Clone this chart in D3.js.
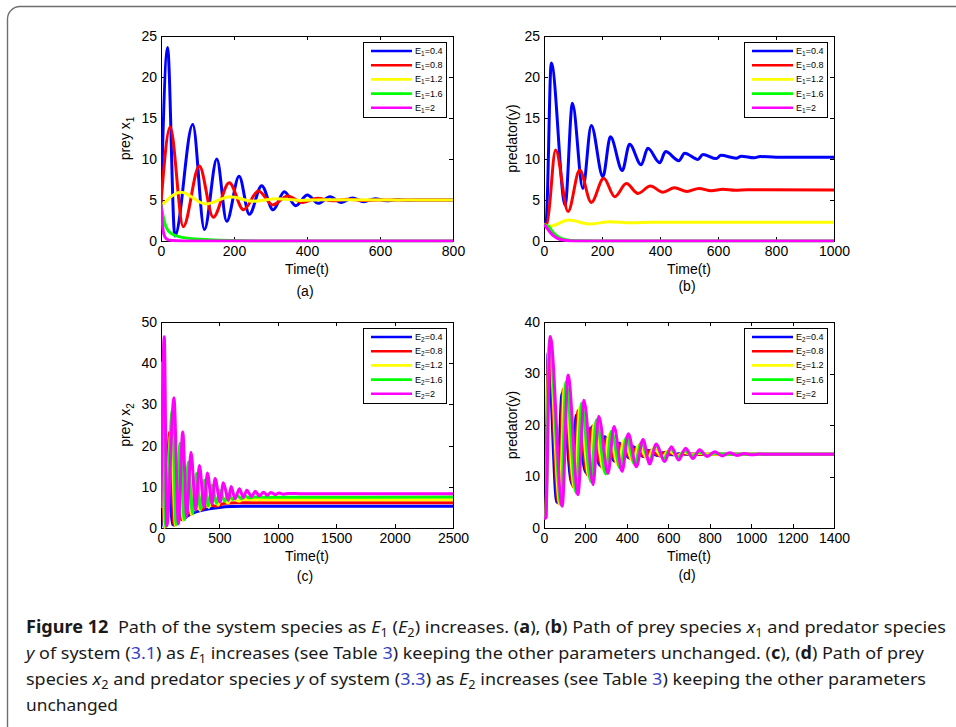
<!DOCTYPE html>
<html>
<head>
<meta charset="utf-8">
<script src="https://cdn.jsdelivr.net/npm/d3@7"></script>
<style>
  body { margin: 0; background: #fff; }
  svg { display: block; }
</style>
</head>
<body>
<svg id="fig" width="956" height="727"></svg>
<script>
// series colours and legend values (E = 0.4 ... 2)
const seriesColors = ["#0000ff", "#ff0000", "#ffff00", "#00ff00", "#ff00ff"];
const effortLevels = ["0.4", "0.8", "1.2", "1.6", "2"];

// tick labels
const xTicksA = [0, 200, 400, 600, 800];
const yTicksA = [0, 5, 10, 15, 20, 25];
const xTicksB = [0, 200, 400, 600, 800, 1000];
const yTicksB = [0, 5, 10, 15, 20, 25];
const xTicksC = [0, 500, 1000, 1500, 2000, 2500];
const yTicksC = [0, 10, 20, 30, 40, 50];
const xTicksD = [0, 200, 400, 600, 800, 1000, 1200, 1400];
const yTicksD = [0, 10, 20, 30, 40];

// (a) prey x1, [t, x1] read at the peaks / troughs
const preyX1_E04 = [[0,4.6],[18,23.6],[38,0.6],[87,14.2],[119,1.4],[153,10],[180,2.4],[214,7.9],[242,3.25],[276,6.75],[307,3.8],[338,6.0],[369,4.3],[401,5.6],[431,4.6],[463,5.4],[494,4.7],[525,5.25],[555,4.8],[587,5.15],[617,4.9],[650,5.05],[680,4.97],[720,5.0],[800,5.0]];
const preyX1_E08 = [[0,4.6],[25,13.9],[61,1.75],[105,9.15],[143,2.9],[187,7.1],[226,3.8],[267,6.1],[306,4.4],[347,5.5],[388,4.7],[429,5.2],[470,4.9],[511,5.1],[552,4.95],[600,5.0],[800,5.0]];
const preyX1_E12 = [[0,4.2],[55,5.95],[123,4.5],[189,5.4],[253,4.85],[317,5.15],[380,4.95],[450,5.02],[800,5.0]];
const preyX1_E16 = [[0,4.5],[6,3.0],[15,1.6],[29,0.9],[52,0.5],[107,0.2],[198,0.05],[300,0],[800,0]];
const preyX1_E20 = [[0,4.5],[3,2.5],[8,0.8],[15,0.25],[30,0.05],[60,0],[800,0]];

// (b) predator y, system (3.1)
const predY1_E04 = [[0,2],[8,2.6],[25,21.7],[73,4.4],[98,16.8],[134,6.4],[163,14.1],[203,7.85],[229,12.7],[270,8.6],[295,11.8],[335,9.3],[358,11.3],[399,9.55],[419,10.9],[465,9.8],[485,10.7],[531,9.95],[548,10.55],[594,10.05],[610,10.45],[663,10.1],[680,10.35],[725,10.15],[745,10.3],[800,10.22],[1000,10.22]];
const predY1_E08 = [[0,2],[10,2.1],[40,11.1],[83,3.6],[123,8.65],[163,4.7],[206,7.65],[244,5.4],[284,7.0],[324,5.8],[367,6.7],[410,5.95],[450,6.5],[493,6.05],[534,6.4],[577,6.12],[617,6.3],[660,6.18],[700,6.25],[1000,6.22]];
const predY1_E12 = [[0,2],[20,1.8],[86,2.55],[157,2.07],[226,2.35],[301,2.22],[370,2.3],[1000,2.28]];
const predY1_E16 = [[0,2],[15,1.8],[30,1.1],[50,0.5],[75,0.15],[110,0.02],[200,0],[1000,0]];
const predY1_E20 = [[0,2],[12,1.5],[25,0.9],[45,0.35],[70,0.08],[100,0],[1000,0]];

// (c) prey x2, system (3.3)
const preyX2_E04 = [[0,5],[4,30],[25,0.2],[60,15],[100,0.8],[140,6],[180,2],[230,3],[300,3.9],[400,4.6],[500,5.0],[600,5.2],[700,5.26],[2500,5.26]];
const preyX2_E08 = [[0,5],[5,36],[28,0.2],[75,23.3],[112,0.6],[140,15],[175,2],[205,9],[250,3.3],[290,6.5],[350,4.5],[400,5.8],[470,5.3],[550,6.0],[650,6.1],[2500,6.15]];
const preyX2_E12 = [[0,5],[6,40],[32,0.2],[86,23],[125,0.6],[152,16.4],[190,1.8],[222,13],[262,3.2],[290,10.5],[335,4.3],[360,9],[410,5],[435,8.2],[490,5.6],[515,7.6],[575,6.1],[600,7.3],[670,6.5],[700,7.0],[800,6.85],[2500,6.88]];
const preyX2_E16 = [[0,5],[8,40],[40,0.3],[97,28.5],[130,0.8],[163,20.6],[200,2],[234,16],[270,3.5],[303,13.2],[340,4.6],[371,11.6],[405,5.4],[437,10.4],[475,6],[506,9.1],[545,6.5],[577,8.3],[615,6.9],[650,7.9],[690,7.1],[720,7.7],[760,7.3],[800,7.55],[900,7.45],[2500,7.5]];
const preyX2_E20 = [[0,5],[28,46.4],[50,0.5],[111,31.6],[149,1],[186,23.3],[220,2.7],[257,18.4],[297,4.3],[329,15.2],[369,5.1],[397,13.35],[437,5.9],[463,12.0],[506,6.3],[534,11.0],[577,6.7],[600,10.1],[634,7.1],[671,9.5],[706,7.4],[734,9.15],[777,7.6],[806,8.9],[843,7.8],[877,8.7],[911,7.95],[940,8.6],[980,8.1],[1011,8.5],[1050,8.2],[1090,8.4],[1200,8.33],[2500,8.33]];

// (d) predator y, system (3.3)
const predY2_E04 = [[0,2],[8,2],[20,34],[62,5],[87,26.1],[135,8.5],[156,21.9],[202,10.8],[224,19.4],[270,12.2],[293,17.7],[340,13],[362,16.5],[410,13.6],[430,15.8],[478,13.9],[500,15.1],[545,14.1],[570,14.6],[620,14.2],[650,14.4],[700,14.3],[1400,14.3]];
const predY2_E08 = [[0,2],[8,2],[23,35],[70,4.8],[93,27],[141,8],[165,22.8],[210,10.3],[234,19.8],[280,11.8],[303,17.5],[350,12.8],[374,16.3],[420,13.4],[445,15.6],[490,13.8],[515,15.1],[560,14],[585,14.7],[640,14.2],[670,14.4],[750,14.3],[1400,14.3]];
const predY2_E12 = [[0,2],[8,2],[25,36],[76,4.6],[99,27.8],[148,7.5],[173,23.4],[218,9.8],[243,20.3],[288,11.3],[314,18.2],[358,12.2],[386,17],[430,12.9],[456,16.1],[500,13.4],[528,15.5],[572,13.8],[600,15],[645,14],[672,14.7],[720,14.2],[750,14.5],[800,14.3],[1400,14.3]];
const predY2_E16 = [[0,2],[8,2],[27,36.5],[82,4.5],[106,28.4],[155,6.8],[182,24.2],[226,9],[253,21],[298,10.5],[325,18.8],[368,11.6],[398,17.6],[438,12.4],[470,16.6],[508,13],[540,16],[578,13.5],[610,15.4],[648,13.8],[680,15],[718,14],[750,14.7],[790,14.1],[820,14.5],[880,14.3],[1400,14.3]];
const predY2_E20 = [[0,2],[8,1.9],[30,37.2],[88,4.2],[116,29.7],[164,6.45],[193,24.8],[237,8.4],[264,21.7],[309,10.6],[338,19.7],[377,11.0],[407,18.3],[446,11.9],[478,17.2],[510,12.45],[542,16.3],[582,12.9],[615,15.8],[650,13.2],[684,15.5],[719,13.5],[751,15.2],[788,13.9],[824,14.8],[861,14.0],[896,14.6],[932,14.1],[968,14.45],[1005,14.2],[1040,14.35],[1100,14.3],[1400,14.3]];

const svg = d3.select("#fig");
const plotFont = "'Liberation Sans', Arial, sans-serif";

// outer frame of the figure (rounded top-left corner)
svg.append("path")
    .attr("d", "M7.5,740 V19 A12.5,12.5 0 0 1 20,6.5 H960")
    .attr("fill", "none")
    .attr("stroke", "#6e6e6e")
    .attr("stroke-width", 1.4);

const panels = [
    { id: "a", box: [161, 36, 453, 241], xMax: 800, yMax: 25, xTicks: xTicksA, yTicks: yTicksA,
      series: [preyX1_E04, preyX1_E08, preyX1_E12, preyX1_E16, preyX1_E20],
      yLabel: "prey x", ySub: "1", yLabelX: 130, titleY: 274, tagY: 296, eSub: "1" },
    { id: "b", box: [544, 36, 834, 241], xMax: 1000, yMax: 25, xTicks: xTicksB, yTicks: yTicksB,
      series: [predY1_E04, predY1_E08, predY1_E12, predY1_E16, predY1_E20],
      yLabel: "predator(y)", ySub: null, yLabelX: 517, titleY: 274, tagY: 291, eSub: "1" },
    { id: "c", box: [161, 322, 453, 528], xMax: 2500, yMax: 50, xTicks: xTicksC, yTicks: yTicksC,
      series: [preyX2_E04, preyX2_E08, preyX2_E12, preyX2_E16, preyX2_E20],
      yLabel: "prey x", ySub: "2", yLabelX: 130, titleY: 561, tagY: 581, eSub: "2" },
    { id: "d", box: [544, 322, 834, 528], xMax: 1400, yMax: 40, xTicks: xTicksD, yTicks: yTicksD,
      series: [predY2_E04, predY2_E08, predY2_E12, predY2_E16, predY2_E20],
      yLabel: "predator(y)", ySub: null, yLabelX: 517, titleY: 561, tagY: 580, eSub: "2" }
];

function styleAxis(sel) {
    sel.select(".domain").remove();
    sel.selectAll(".tick line").attr("stroke", "#000").attr("shape-rendering", "crispEdges");
    sel.selectAll(".tick text")
        .attr("fill", "#000")
        .style("font-size", "14px")
        .style("font-family", plotFont);
}

function drawPanel(p) {
    const [L, T, R, B] = p.box;
    const x = d3.scaleLinear().domain([0, p.xMax]).range([L, R]);
    const y = d3.scaleLinear().domain([0, p.yMax]).range([B, T]);
    const g = svg.append("g").attr("class", "panel-" + p.id);

    g.append("clipPath").attr("id", "clip-" + p.id)
        .append("rect")
        .attr("x", L).attr("y", T)
        .attr("width", R - L).attr("height", B - T + 1.5);

    // axes, ticks pointing inwards on all four sides
    g.append("g").attr("transform", `translate(0,${B})`)
        .call(d3.axisBottom(x).tickValues(p.xTicks).tickFormat(d3.format("d")).tickSize(-4).tickPadding(5))
        .call(styleAxis);
    g.append("g").attr("transform", `translate(0,${T})`)
        .call(d3.axisTop(x).tickValues(p.xTicks).tickSize(-4).tickFormat(""))
        .call(styleAxis);
    g.append("g").attr("transform", `translate(${L},0)`)
        .call(d3.axisLeft(y).tickValues(p.yTicks).tickFormat(d3.format("d")).tickSize(-4).tickPadding(4))
        .call(styleAxis);
    g.append("g").attr("transform", `translate(${R},0)`)
        .call(d3.axisRight(y).tickValues(p.yTicks).tickSize(-4).tickFormat(""))
        .call(styleAxis);

    g.append("rect")
        .attr("x", L + 0.5).attr("y", T + 0.5)
        .attr("width", R - L).attr("height", B - T)
        .attr("fill", "none")
        .attr("stroke", "#000")
        .attr("stroke-width", 1);

    const line = d3.line()
        .x(d => x(d[0]))
        .y(d => y(d[1]))
        .curve(d3.curveMonotoneX);

    g.append("g").attr("clip-path", `url(#clip-${p.id})`)
        .selectAll("path")
        .data(p.series)
        .join("path")
        .attr("d", line)
        .attr("fill", "none")
        .attr("stroke", (d, i) => seriesColors[i])
        .attr("stroke-width", 3)
        .attr("stroke-linejoin", "round");

    // axis titles
    g.append("text")
        .attr("x", (L + R) / 2).attr("y", p.titleY)
        .attr("text-anchor", "middle")
        .style("font-family", plotFont).style("font-size", "14px")
        .text("Time(t)");
    g.append("text")
        .attr("x", (L + R) / 2 - 2).attr("y", p.tagY)
        .attr("text-anchor", "middle")
        .style("font-family", plotFont).style("font-size", "14px")
        .text(`(${p.id})`);

    const yl = g.append("text")
        .attr("transform", `translate(${p.yLabelX},${(T + B) / 2}) rotate(-90)`)
        .attr("text-anchor", "middle")
        .style("font-family", plotFont).style("font-size", "14px");
    yl.append("tspan").text(p.yLabel);
    if (p.ySub) yl.append("tspan").attr("dy", 4).style("font-size", "10px").text(p.ySub);

    // legend
    const lw = 83, lh = 75;
    const lg = g.append("g").attr("transform", `translate(${R - 7 - lw},${T + 6})`);
    lg.append("rect")
        .attr("x", 0.5).attr("y", 0.5)
        .attr("width", lw).attr("height", lh)
        .attr("fill", "#fff")
        .attr("stroke", "#000");
    effortLevels.forEach((v, i) => {
        const ly = 9 + i * 14.2;
        lg.append("line")
            .attr("x1", 8).attr("x2", 49)
            .attr("y1", ly).attr("y2", ly)
            .attr("stroke", seriesColors[i])
            .attr("stroke-width", 2.6);
        const t = lg.append("text")
            .attr("x", 52).attr("y", ly + 3)
            .style("font-family", plotFont).style("font-size", "9px");
        t.append("tspan").text("E");
        t.append("tspan").attr("dy", 2).style("font-size", "6.5px").text(p.eSub);
        t.append("tspan").attr("dy", -2).text("=" + v);
    });
}

panels.forEach(drawPanel);

// caption
const linkBlue = "#3440c4";
const captionLines = [
    [{ t: "Figure 12", b: 1 }, { t: "  Path of the system species as " }, { t: "E", i: 1 }, { t: "1", sub: 1 },
     { t: " (" }, { t: "E", i: 1 }, { t: "2", sub: 1 }, { t: ") increases. (" }, { t: "a", b: 1 }, { t: "), (" },
     { t: "b", b: 1 }, { t: ") Path of prey species " }, { t: "x", i: 1 }, { t: "1", sub: 1 }, { t: " and predator species" }],
    [{ t: "y", i: 1 }, { t: " of system (" }, { t: "3.1", link: 1 }, { t: ") as " }, { t: "E", i: 1 }, { t: "1", sub: 1 },
     { t: " increases (see Table " }, { t: "3", link: 1 }, { t: ") keeping the other parameters unchanged. (" },
     { t: "c", b: 1 }, { t: "), (" }, { t: "d", b: 1 }, { t: ") Path of prey" }],
    [{ t: "species " }, { t: "x", i: 1 }, { t: "2", sub: 1 }, { t: " and predator species " }, { t: "y", i: 1 },
     { t: " of system (" }, { t: "3.3", link: 1 }, { t: ") as " }, { t: "E", i: 1 }, { t: "2", sub: 1 },
     { t: " increases (see Table " }, { t: "3", link: 1 }, { t: ") keeping the other parameters" }],
    [{ t: "unchanged" }]
];
const captionWidths = [920, 898, 900, 92];

captionLines.forEach((segs, li) => {
    const txt = svg.append("text")
        .attr("x", 26).attr("y", 633 + li * 26)
        .style("font-family", "'Noto Sans', 'Open Sans', sans-serif")
        .style("font-size", "17px")
        .style("white-space", "pre")
        .attr("fill", "#1a1a1a")
        .attr("textLength", captionWidths[li])
        .attr("lengthAdjust", "spacingAndGlyphs");
    let shifted = false;
    segs.forEach(s => {
        const ts = txt.append("tspan").text(s.t);
        if (s.b) ts.style("font-weight", "bold");
        if (s.i) ts.style("font-style", "italic");
        if (s.link) ts.attr("fill", linkBlue);
        if (s.sub) { ts.attr("dy", 4).style("font-size", "12px"); shifted = true; }
        else if (shifted) { ts.attr("dy", -4); shifted = false; }
    });
});
</script>
</body>
</html>
